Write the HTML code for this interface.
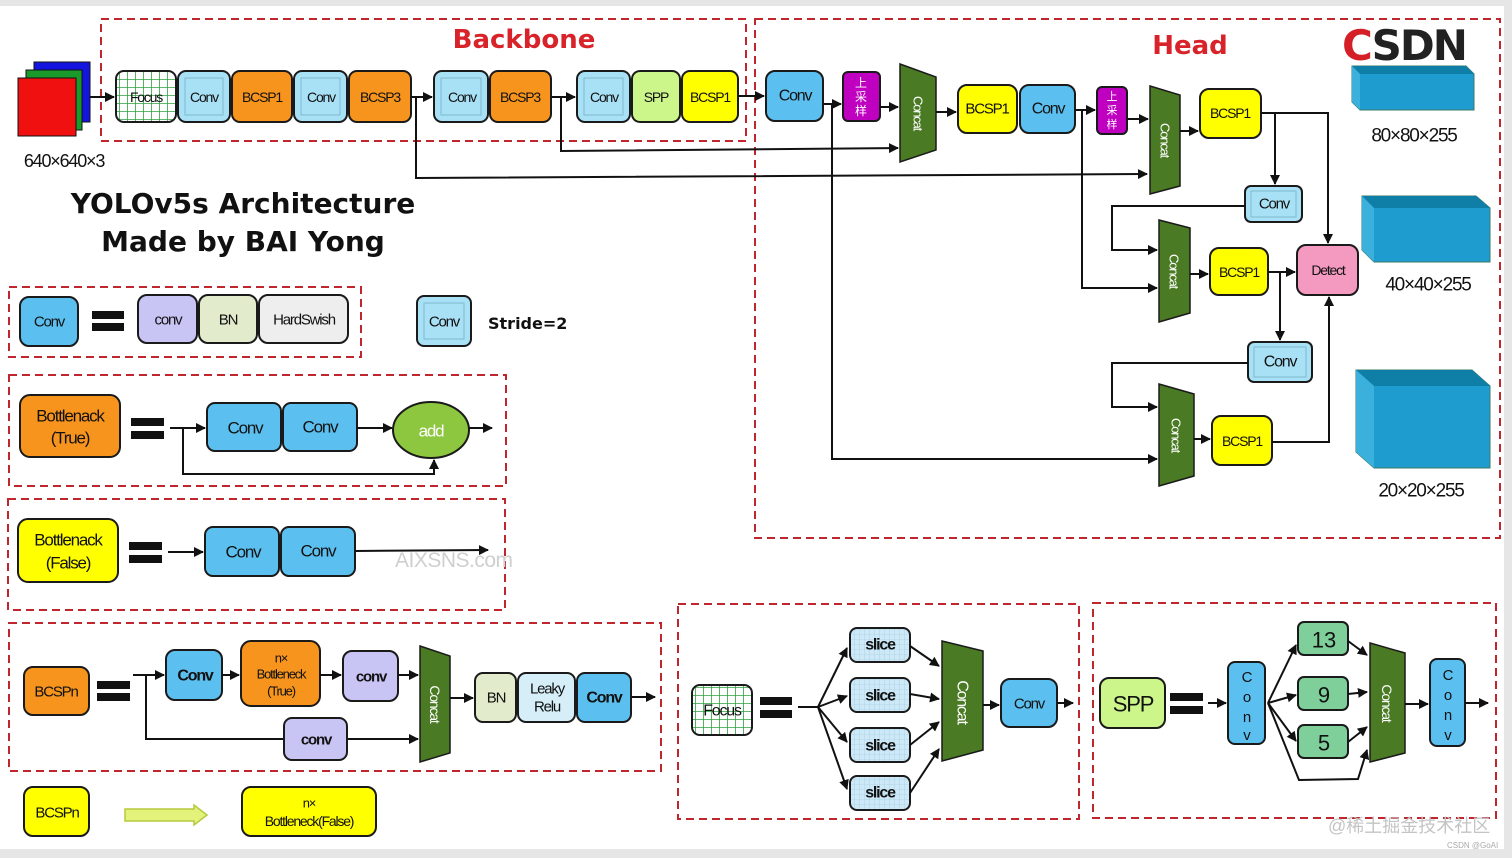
<!DOCTYPE html>
<html><head><meta charset="utf-8"><style>
html,body{margin:0;padding:0;background:#fff}
svg{display:block}
text{font-family:"Liberation Sans","Noto Sans CJK SC",sans-serif}
.t{letter-spacing:-1.2px;text-anchor:middle;dominant-baseline:central;fill:#111}
.b{stroke:#1a1a1a;stroke-width:2}
.ln{stroke:#111;stroke-width:2;fill:none}
.dash{fill:none;stroke:#c0262d;stroke-width:2;stroke-dasharray:8 5}
</style></head><body>
<svg width="1512" height="858" viewBox="0 0 1512 858" font-size="14" xmlns="http://www.w3.org/2000/svg">
<defs>
<marker id="a" markerWidth="10" markerHeight="10" refX="9" refY="5" orient="auto" markerUnits="userSpaceOnUse"><path d="M0,0 L10,5 L0,10 z" fill="#111"/></marker>
<pattern id="g" width="8" height="8" patternUnits="userSpaceOnUse"><rect width="8" height="8" fill="#fff"/><path d="M8,0 V8 M0,8 H8" stroke="#2fa040" stroke-width="1.6"/></pattern>
<pattern id="sg" width="5" height="5" patternUnits="userSpaceOnUse"><rect width="5" height="5" fill="#cde9f7"/><path d="M5,0 V5 M0,5 H5" stroke="#9cc7dd" stroke-width="0.6"/></pattern>
</defs>
<rect x="0" y="0" width="1512" height="6" fill="#e6e6e6"/>
<rect x="1504" y="0" width="8" height="858" fill="#e6e6e6"/>
<rect x="0" y="849" width="1512" height="9" fill="#e6e6e6"/>

<rect class="dash" x="101" y="19" width="645" height="122"/>
<rect class="dash" x="755" y="19" width="745" height="519"/>
<rect class="dash" x="9" y="287" width="352" height="70"/>
<rect class="dash" x="9" y="375" width="497" height="111"/>
<rect class="dash" x="8" y="499" width="497" height="111"/>
<rect class="dash" x="9" y="623" width="652" height="148"/>
<rect class="dash" x="678" y="604" width="401" height="215"/>
<rect class="dash" x="1093" y="603" width="403" height="215"/>

<text x="524" y="48" font-size="26" font-weight="bold" fill="#d8232a" text-anchor="middle" style="font-family:'DejaVu Sans',sans-serif">Backbone</text>
<text x="1190" y="54" font-size="26" font-weight="bold" fill="#d8232a" text-anchor="middle" style="font-family:'DejaVu Sans',sans-serif">Head</text>
<text x="1342" y="60" font-size="42" font-weight="bold" fill="#222" style="font-family:'DejaVu Sans',sans-serif;letter-spacing:-2px"><tspan fill="#d41f26">C</tspan>SDN</text>

<rect x="34" y="62" width="56" height="60" fill="#1515e0" stroke="#111"/>
<rect x="26" y="70" width="56" height="60" fill="#1a9a2a" stroke="#111"/>
<rect x="18" y="78" width="58" height="58" fill="#f01010" stroke="#111"/>
<text x="64" y="161" class="t" font-size="18">640×640×3</text>
<line class="ln" x1="90" y1="97" x2="114" y2="97" marker-end="url(#a)"/>

<rect class="b" x="116" y="71" width="60" height="51" rx="8" fill="url(#g)"/><text class="t" x="146" y="97">Focus</text>
<rect class="b" x="178" y="71" width="52" height="51" rx="8" fill="#a8e0f5"/><rect x="185" y="78" width="38" height="37" fill="none" stroke="#7fb9d0"/><text class="t" x="204" y="97">Conv</text>
<rect class="b" x="232" y="71" width="60" height="51" rx="8" fill="#f7941d"/><text class="t" x="262" y="97">BCSP1</text>
<rect class="b" x="294" y="71" width="53" height="51" rx="8" fill="#a8e0f5"/><rect x="301" y="78" width="39" height="37" fill="none" stroke="#7fb9d0"/><text class="t" x="321" y="97">Conv</text>
<rect class="b" x="349" y="71" width="62" height="51" rx="8" fill="#f7941d"/><text class="t" x="380" y="97">BCSP3</text>
<line class="ln" x1="411" y1="97" x2="432" y2="97" marker-end="url(#a)"/>
<rect class="b" x="434" y="71" width="54" height="51" rx="8" fill="#a8e0f5"/><rect x="441" y="78" width="40" height="37" fill="none" stroke="#7fb9d0"/><text class="t" x="462" y="97">Conv</text>
<rect class="b" x="490" y="71" width="61" height="51" rx="8" fill="#f7941d"/><text class="t" x="520" y="97">BCSP3</text>
<line class="ln" x1="551" y1="97" x2="575" y2="97" marker-end="url(#a)"/>
<rect class="b" x="577" y="71" width="53" height="51" rx="8" fill="#a8e0f5"/><rect x="584" y="78" width="39" height="37" fill="none" stroke="#7fb9d0"/><text class="t" x="604" y="97">Conv</text>
<rect class="b" x="632" y="71" width="48" height="51" rx="8" fill="#ccf58a"/><text class="t" x="656" y="97">SPP</text>
<rect class="b" x="682" y="71" width="56" height="51" rx="8" fill="#ffff00"/><text class="t" x="710" y="97">BCSP1</text>
<line class="ln" x1="738" y1="96" x2="764" y2="96" marker-end="url(#a)"/>

<polyline class="ln" points="416,97 416,178 1147,174" marker-end="url(#a)"/>
<polyline class="ln" points="561,97 561,151 898,148" marker-end="url(#a)"/>

<rect class="b" x="766" y="71" width="57" height="50" rx="9" fill="#5bc0f0"/><text class="t" x="795" y="96" font-size="16">Conv</text>
<line class="ln" x1="823" y1="104" x2="841" y2="104" marker-end="url(#a)"/>
<rect class="b" x="843" y="72" width="37" height="49" rx="5" fill="#c000c0"/>
<text x="861" y="87" font-size="12" fill="#fff" text-anchor="middle">上</text><text x="861" y="101" font-size="12" fill="#fff" text-anchor="middle">采</text><text x="861" y="115" font-size="12" fill="#fff" text-anchor="middle">样</text>
<line class="ln" x1="880" y1="107" x2="898" y2="107" marker-end="url(#a)"/>
<polygon points="900,64 936,77 936,150 900,162" fill="#4a7a23" stroke="#1a1a1a" stroke-width="1.5"/>
<text class="t" transform="translate(918,113) rotate(90)" font-size="13" style="fill:#fff">Concat</text>
<polyline class="ln" points="832,104 832,459 1157,459" marker-end="url(#a)"/>
<line class="ln" x1="936" y1="112" x2="956" y2="112" marker-end="url(#a)"/>
<rect class="b" x="958" y="85" width="59" height="48" rx="9" fill="#ffff00"/><text class="t" x="987" y="109" font-size="15">BCSP1</text>
<rect class="b" x="1020" y="85" width="55" height="48" rx="9" fill="#5bc0f0"/><text class="t" x="1048" y="109" font-size="16">Conv</text>
<line class="ln" x1="1075" y1="110" x2="1095" y2="110" marker-end="url(#a)"/>
<rect class="b" x="1097" y="87" width="30" height="47" rx="5" fill="#c000c0"/>
<text x="1112" y="100" font-size="11" fill="#fff" text-anchor="middle">上</text><text x="1112" y="114" font-size="11" fill="#fff" text-anchor="middle">采</text><text x="1112" y="128" font-size="11" fill="#fff" text-anchor="middle">样</text>
<line class="ln" x1="1127" y1="119" x2="1148" y2="119" marker-end="url(#a)"/>
<polyline class="ln" points="1082,110 1082,288 1157,288" marker-end="url(#a)"/>
<polygon points="1150,86 1180,95 1180,186 1150,194" fill="#4a7a23" stroke="#1a1a1a" stroke-width="1.5"/>
<text class="t" transform="translate(1165,140) rotate(90)" font-size="13" style="fill:#fff">Concat</text>
<line class="ln" x1="1180" y1="131" x2="1198" y2="131" marker-end="url(#a)"/>
<rect class="b" x="1200" y="89" width="61" height="49" rx="9" fill="#ffff00"/><text class="t" x="1230" y="113">BCSP1</text>
<polyline class="ln" points="1261,113 1328,113 1328,243" marker-end="url(#a)"/>
<line class="ln" x1="1275" y1="113" x2="1275" y2="184" marker-end="url(#a)"/>
<rect class="b" x="1245" y="186" width="57" height="36" rx="6" fill="#a8e0f5"/><rect x="1251" y="191" width="45" height="26" fill="none" stroke="#7fb9d0"/><text class="t" x="1274" y="204" font-size="15">Conv</text>
<polyline class="ln" points="1245,206 1112,206 1112,250 1157,250" marker-end="url(#a)"/>
<polygon points="1159,220 1190,228 1190,313 1159,322" fill="#4a7a23" stroke="#1a1a1a" stroke-width="1.5"/>
<text class="t" transform="translate(1174,271) rotate(90)" font-size="13" style="fill:#fff">Concat</text>
<line class="ln" x1="1190" y1="274" x2="1208" y2="274" marker-end="url(#a)"/>
<rect class="b" x="1210" y="248" width="58" height="47" rx="9" fill="#ffff00"/><text class="t" x="1239" y="272">BCSP1</text>
<line class="ln" x1="1268" y1="272" x2="1295" y2="272" marker-end="url(#a)"/>
<line class="ln" x1="1280" y1="272" x2="1280" y2="340" marker-end="url(#a)"/>
<rect class="b" x="1297" y="245" width="61" height="50" rx="9" fill="#f49ac1"/><text class="t" x="1328" y="270">Detect</text>
<rect class="b" x="1248" y="342" width="64" height="40" rx="6" fill="#a8e0f5"/><rect x="1254" y="347" width="52" height="30" fill="none" stroke="#7fb9d0"/><text class="t" x="1280" y="362" font-size="16">Conv</text>
<polyline class="ln" points="1248,363 1112,363 1112,407 1157,407" marker-end="url(#a)"/>
<polygon points="1159,384 1194,394 1194,476 1159,486" fill="#4a7a23" stroke="#1a1a1a" stroke-width="1.5"/>
<text class="t" transform="translate(1176,435) rotate(90)" font-size="13" style="fill:#fff">Concat</text>
<line class="ln" x1="1194" y1="439" x2="1210" y2="439" marker-end="url(#a)"/>
<rect class="b" x="1212" y="416" width="60" height="49" rx="9" fill="#ffff00"/><text class="t" x="1242" y="441">BCSP1</text>
<polyline class="ln" points="1272,442 1329,442 1329,297" marker-end="url(#a)"/>

<polygon points="1352,66 1466,66 1474,74 1474,110 1360,110 1352,102" fill="#1e9cd0" stroke="#3b7a6a"/>
<polygon points="1352,66 1466,66 1474,74 1360,74" fill="#0f7fa8"/><polygon points="1352,66 1360,74 1360,110 1352,102" fill="#3bb0dc"/>
<text class="t" x="1414" y="136" font-size="19">80×80×255</text>
<polygon points="1362,196 1476,196 1490,208 1490,262 1374,262 1362,250" fill="#1e9cd0" stroke="#3b7a6a"/>
<polygon points="1362,196 1476,196 1490,208 1374,208" fill="#0f7fa8"/><polygon points="1362,196 1374,208 1374,262 1362,250" fill="#3bb0dc"/>
<text class="t" x="1428" y="285" font-size="19">40×40×255</text>
<polygon points="1356,370 1472,370 1490,386 1490,468 1374,468 1356,452" fill="#1e9cd0" stroke="#3b7a6a"/>
<polygon points="1356,370 1472,370 1490,386 1374,386" fill="#0f7fa8"/><polygon points="1356,370 1374,386 1374,468 1356,452" fill="#3bb0dc"/>
<text class="t" x="1421" y="491" font-size="19">20×20×255</text>

<text x="243" y="213" font-size="28" font-weight="bold" text-anchor="middle" fill="#111" style="font-family:'DejaVu Sans',sans-serif">YOLOv5s Architecture</text>
<text x="243" y="251" font-size="28" font-weight="bold" text-anchor="middle" fill="#111" style="font-family:'DejaVu Sans',sans-serif">Made by BAI Yong</text>

<rect class="b" x="20" y="297" width="58" height="49" rx="9" fill="#5bc0f0"/><text class="t" x="49" y="322" font-size="15">Conv</text>
<rect x="92" y="311" width="32" height="8" fill="#111"/><rect x="92" y="323" width="32" height="8" fill="#111"/>
<rect class="b" x="138" y="295" width="59" height="48" rx="9" fill="#c8c4f4"/><text class="t" x="168" y="320" font-size="15">conv</text>
<rect class="b" x="199" y="295" width="58" height="48" rx="9" fill="#e2eccc"/><text class="t" x="228" y="320" font-size="15">BN</text>
<rect class="b" x="259" y="295" width="89" height="48" rx="9" fill="#eeeeee"/><text class="t" x="304" y="320" font-size="15">HardSwish</text>
<rect class="b" x="417" y="296" width="54" height="50" rx="7" fill="#a8e0f5"/><rect x="424" y="303" width="40" height="36" fill="none" stroke="#7fb9d0"/><text class="t" x="444" y="322" font-size="15">Conv</text>
<text x="488" y="329" font-size="16" font-weight="bold" fill="#111" style="font-family:'DejaVu Sans',sans-serif">Stride=2</text>

<rect class="b" x="20" y="395" width="100" height="62" rx="10" fill="#f7941d"/><text class="t" x="70" y="416" font-size="17">Bottlenack</text><text class="t" x="70" y="438" font-size="17">(True)</text>
<rect x="131" y="418" width="33" height="8" fill="#111"/><rect x="131" y="431" width="33" height="8" fill="#111"/>
<line class="ln" x1="170" y1="428" x2="205" y2="428" marker-end="url(#a)"/>
<rect class="b" x="207" y="403" width="74" height="48" rx="8" fill="#5bc0f0"/><text class="t" x="245" y="428" font-size="17">Conv</text>
<rect class="b" x="283" y="403" width="74" height="48" rx="8" fill="#5bc0f0"/><text class="t" x="320" y="427" font-size="17">Conv</text>
<line class="ln" x1="357" y1="428" x2="392" y2="428" marker-end="url(#a)"/>
<ellipse cx="431" cy="430" rx="38" ry="28" fill="#8dc63f" stroke="#1a1a1a" stroke-width="2"/><text class="t" x="431" y="431" font-size="17" style="fill:#fff">add</text>
<line class="ln" x1="469" y1="428" x2="492" y2="428" marker-end="url(#a)"/>
<polyline class="ln" points="183,428 183,474 434,474 434,460" marker-end="url(#a)"/>

<rect class="b" x="18" y="519" width="100" height="63" rx="10" fill="#ffff00"/><text class="t" x="68" y="540" font-size="17">Bottlenack</text><text class="t" x="68" y="563" font-size="17">(False)</text>
<rect x="129" y="542" width="33" height="8" fill="#111"/><rect x="129" y="555" width="33" height="8" fill="#111"/>
<line class="ln" x1="168" y1="552" x2="203" y2="552" marker-end="url(#a)"/>
<rect class="b" x="205" y="527" width="74" height="49" rx="8" fill="#5bc0f0"/><text class="t" x="243" y="552" font-size="17">Conv</text>
<rect class="b" x="281" y="527" width="74" height="49" rx="8" fill="#5bc0f0"/><text class="t" x="318" y="551" font-size="17">Conv</text>
<line class="ln" x1="355" y1="551" x2="488" y2="550" marker-end="url(#a)"/>
<text x="395" y="567" font-size="21" fill="#cfcfcf" style="letter-spacing:-0.5px">AIXSNS.com</text>

<rect class="b" x="24" y="667" width="65" height="48" rx="9" fill="#f7941d"/><text class="t" x="56" y="692" font-size="15">BCSPn</text>
<rect x="97" y="681" width="33" height="8" fill="#111"/><rect x="97" y="693" width="33" height="8" fill="#111"/>
<line class="ln" x1="133" y1="675" x2="164" y2="675" marker-end="url(#a)"/>
<polyline class="ln" points="146,675 146,739 418,739" marker-end="url(#a)"/>
<rect class="b" x="166" y="650" width="56" height="50" rx="9" fill="#5bc0f0"/><text class="t" x="195" y="676" font-size="16" font-weight="bold">Conv</text>
<line class="ln" x1="222" y1="675" x2="239" y2="675" marker-end="url(#a)"/>
<rect class="b" x="241" y="641" width="79" height="65" rx="10" fill="#f7941d"/><text class="t" x="281" y="658" font-size="13">n×</text><text class="t" x="281" y="674" font-size="13">Bottleneck</text><text class="t" x="281" y="691" font-size="13">(True)</text>
<line class="ln" x1="320" y1="675" x2="341" y2="675" marker-end="url(#a)"/>
<rect class="b" x="343" y="651" width="55" height="50" rx="9" fill="#c8c4f4"/><text class="t" x="371" y="677" font-size="15" font-weight="bold">conv</text>
<line class="ln" x1="398" y1="675" x2="418" y2="675" marker-end="url(#a)"/>
<rect class="b" x="284" y="718" width="63" height="42" rx="8" fill="#c8c4f4"/><text class="t" x="316" y="740" font-size="15" font-weight="bold">conv</text>
<polygon points="420,646 450,656 450,753 420,762" fill="#4a7a23" stroke="#1a1a1a" stroke-width="1.5"/>
<text class="t" transform="translate(435,704) rotate(90)" font-size="14" style="fill:#fff">Concat</text>
<line class="ln" x1="450" y1="698" x2="473" y2="698" marker-end="url(#a)"/>
<rect class="b" x="475" y="673" width="41" height="49" rx="8" fill="#e2eccc"/><text class="t" x="496" y="698" font-size="15">BN</text>
<rect class="b" x="518" y="673" width="57" height="49" rx="8" fill="#d5eef8"/><text class="t" x="547" y="689" font-size="15">Leaky</text><text class="t" x="547" y="707" font-size="15">Relu</text>
<rect class="b" x="577" y="673" width="54" height="49" rx="8" fill="#5bc0f0"/><text class="t" x="604" y="698" font-size="16" font-weight="bold">Conv</text>
<line class="ln" x1="631" y1="697" x2="655" y2="697" marker-end="url(#a)"/>

<rect class="b" x="24" y="787" width="65" height="49" rx="9" fill="#ffff00"/><text class="t" x="57" y="813" font-size="15">BCSPn</text>
<polygon points="125,809 194,809 194,805 207,815 194,825 194,821 125,821" fill="#e2f27a" stroke="#b7c93d" stroke-width="1.5"/>
<rect class="b" x="242" y="787" width="134" height="49" rx="9" fill="#ffff00"/><text class="t" x="309" y="803" font-size="13">n×</text><text class="t" x="309" y="821" font-size="14">Bottleneck(False)</text>

<rect class="b" x="692" y="685" width="60" height="50" rx="8" fill="url(#g)"/><text class="t" x="722" y="711" font-size="16">Focus</text>
<rect x="760" y="697" width="32" height="8" fill="#111"/><rect x="760" y="710" width="32" height="8" fill="#111"/>
<line class="ln" x1="798" y1="707" x2="818" y2="707"/>
<line class="ln" x1="818" y1="707" x2="847" y2="648" marker-end="url(#a)"/>
<line class="ln" x1="818" y1="707" x2="847" y2="696" marker-end="url(#a)"/>
<line class="ln" x1="818" y1="707" x2="847" y2="742" marker-end="url(#a)"/>
<line class="ln" x1="818" y1="707" x2="847" y2="789" marker-end="url(#a)"/>
<rect class="b" x="850" y="628" width="60" height="34" rx="7" fill="url(#sg)"/><text class="t" x="880" y="645" font-size="16" font-weight="bold">slice</text>
<rect class="b" x="850" y="678" width="60" height="34" rx="7" fill="url(#sg)"/><text class="t" x="880" y="696" font-size="16" font-weight="bold">slice</text>
<rect class="b" x="850" y="728" width="60" height="34" rx="7" fill="url(#sg)"/><text class="t" x="880" y="746" font-size="16" font-weight="bold">slice</text>
<rect class="b" x="850" y="776" width="60" height="34" rx="7" fill="url(#sg)"/><text class="t" x="880" y="793" font-size="16" font-weight="bold">slice</text>
<line class="ln" x1="910" y1="646" x2="939" y2="666" marker-end="url(#a)"/>
<line class="ln" x1="910" y1="694" x2="939" y2="699" marker-end="url(#a)"/>
<line class="ln" x1="910" y1="745" x2="939" y2="722" marker-end="url(#a)"/>
<line class="ln" x1="910" y1="793" x2="939" y2="749" marker-end="url(#a)"/>
<polygon points="942,641 983,651 983,750 942,761" fill="#4a7a23" stroke="#1a1a1a" stroke-width="1.5"/>
<text class="t" transform="translate(962,702) rotate(90)" font-size="16" style="fill:#fff">Concat</text>
<line class="ln" x1="983" y1="705" x2="999" y2="705" marker-end="url(#a)"/>
<rect class="b" x="1001" y="679" width="56" height="48" rx="9" fill="#5bc0f0"/><text class="t" x="1029" y="704" font-size="15">Conv</text>
<line class="ln" x1="1057" y1="703" x2="1073" y2="703" marker-end="url(#a)"/>

<rect class="b" x="1100" y="678" width="65" height="50" rx="9" fill="#ccf58a"/><text class="t" x="1133" y="704" font-size="22">SPP</text>
<rect x="1170" y="693" width="33" height="8" fill="#111"/><rect x="1170" y="706" width="33" height="8" fill="#111"/>
<line class="ln" x1="1208" y1="703" x2="1226" y2="703" marker-end="url(#a)"/>
<rect class="b" x="1228" y="662" width="37" height="82" rx="7" fill="#5bc0f0"/>
<text x="1247" y="682" font-size="15" text-anchor="middle" fill="#111">C</text><text x="1247" y="702" font-size="15" text-anchor="middle" fill="#111">o</text><text x="1247" y="722" font-size="15" text-anchor="middle" fill="#111">n</text><text x="1247" y="740" font-size="15" text-anchor="middle" fill="#111">v</text>
<line class="ln" x1="1268" y1="703" x2="1296" y2="645" marker-end="url(#a)"/>
<line class="ln" x1="1268" y1="703" x2="1296" y2="695" marker-end="url(#a)"/>
<line class="ln" x1="1268" y1="703" x2="1296" y2="741" marker-end="url(#a)"/>
<polyline class="ln" points="1268,703 1299,780 1358,779 1367,750" marker-end="url(#a)"/>
<rect class="b" x="1298" y="622" width="50" height="33" rx="6" fill="#7fcf9a"/><text class="t" x="1324" y="640" font-size="22" style="letter-spacing:0">13</text>
<rect class="b" x="1298" y="677" width="50" height="33" rx="6" fill="#7fcf9a"/><text class="t" x="1324" y="695" font-size="22" style="letter-spacing:0">9</text>
<rect class="b" x="1298" y="725" width="50" height="33" rx="6" fill="#7fcf9a"/><text class="t" x="1324" y="743" font-size="22" style="letter-spacing:0">5</text>
<line class="ln" x1="1348" y1="641" x2="1367" y2="655" marker-end="url(#a)"/>
<line class="ln" x1="1348" y1="694" x2="1367" y2="692" marker-end="url(#a)"/>
<line class="ln" x1="1348" y1="742" x2="1367" y2="727" marker-end="url(#a)"/>
<polygon points="1370,643 1405,653 1405,753 1370,762" fill="#4a7a23" stroke="#1a1a1a" stroke-width="1.5"/>
<text class="t" transform="translate(1387,703) rotate(90)" font-size="14" style="fill:#fff">Concat</text>
<line class="ln" x1="1405" y1="704" x2="1428" y2="704" marker-end="url(#a)"/>
<rect class="b" x="1430" y="659" width="35" height="87" rx="7" fill="#5bc0f0"/>
<text x="1448" y="680" font-size="15" text-anchor="middle" fill="#111">C</text><text x="1448" y="700" font-size="15" text-anchor="middle" fill="#111">o</text><text x="1448" y="720" font-size="15" text-anchor="middle" fill="#111">n</text><text x="1448" y="740" font-size="15" text-anchor="middle" fill="#111">v</text>
<line class="ln" x1="1465" y1="703" x2="1488" y2="703" marker-end="url(#a)"/>

<text x="1328" y="832" font-size="18" fill="#c4c4c4">@稀土掘金技术社区</text>
<text x="1447" y="848" font-size="8" fill="#aaa">CSDN @GoAI</text>
</svg>
</body></html>
